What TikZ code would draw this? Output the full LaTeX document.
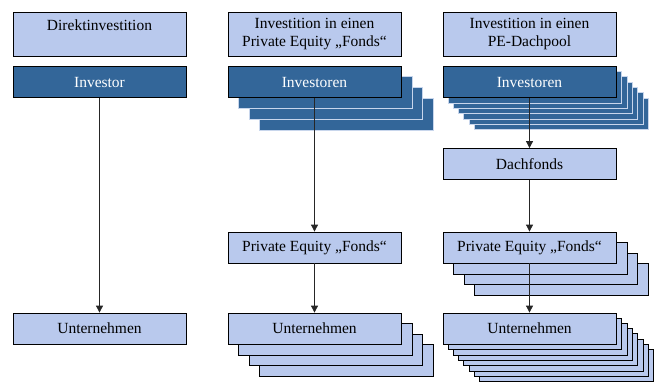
\documentclass[tikz,border=0pt]{standalone}
\usepackage{fontspec}
\setmainfont{Liberation Serif}
\usepackage{xcolor}
\definecolor{boxblue}{HTML}{B9C9ED}
\definecolor{darkblue}{HTML}{336699}
\definecolor{edgeblue}{HTML}{C8D6EC}
\usepackage{tikz}
\usetikzlibrary{arrows.meta, backgrounds}

\tikzset{
	kopf/.style={draw, line width=0.8pt, fill=boxblue, minimum width=173pt, minimum height=44pt, align=center, inner sep=1pt, font=\fontsize{15.5}{18}\selectfont},
	hell/.style={draw, line width=0.8pt, fill=boxblue, minimum width=173pt, minimum height=31pt, inner sep=1pt, font=\fontsize{15.5}{18}\selectfont},
	dunkel/.style={hell, fill=darkblue, text=white},
	pfeil/.style={-{Triangle[length=7pt, width=7pt]}, line width=0.8pt, black!85}
}

\begin{document}
\begin{tikzpicture}[x=1pt, y=-1pt]
	\useasboundingbox (0, 0) rectangle (660, 381);
	
	\node[kopf] (hdirekt) at (99.5, 34) {Direktinvestition\\\mbox{}};
	\node[kopf] (hfonds) at (314.5, 34) {Investition in einen\\Private Equity „Fonds“};
	\node[kopf] (hdach) at (529.5, 34) {Investition in einen\\PE-Dachpool};
	
	\node[dunkel] (inv1) at (99.5, 82) {Investor};
	\node[dunkel] (inv2) at (314.5, 82) {Investoren};
	\node[dunkel] (inv3) at (529.5, 82) {Investoren};
	
	\node[hell] (dach) at (529.5, 164) {Dachfonds};
	\node[hell] (pe2) at (314.5, 247.5) {Private Equity „Fonds“};
	\node[hell] (pe3) at (529.5, 247.5) {Private Equity „Fonds“};
	
	\node[hell] (unt1) at (99.5, 328.5) {Unternehmen};
	\node[hell] (unt2) at (314.5, 328.5) {Unternehmen};
	\node[hell] (unt3) at (529.5, 328.5) {Unternehmen};
	
	\begin{scope}[on background layer]
		\foreach \i in {3,2,1} {
			\draw[fill=darkblue, draw=edgeblue, line width=0.8pt] ([shift={(\i*10.7, \i*10.7)}]inv2.south west) rectangle ([shift={(\i*10.7, \i*10.7)}]inv2.north east);
			\draw[fill=boxblue, line width=0.8pt] ([shift={(\i*10.7, \i*10.7)}]pe3.south west) rectangle ([shift={(\i*10.7, \i*10.7)}]pe3.north east);
			\draw[fill=boxblue, line width=0.8pt] ([shift={(\i*10.7, \i*10.7)}]unt2.south west) rectangle ([shift={(\i*10.7, \i*10.7)}]unt2.north east);
		}
		\foreach \i in {6,5,...,1} {
			\draw[fill=darkblue, draw=edgeblue, line width=0.8pt] ([shift={(\i*5.3, \i*5.3)}]inv3.south west) rectangle ([shift={(\i*5.3, \i*5.3)}]inv3.north east);
		}
		\foreach \i in {7,6,...,1} {
			\draw[fill=boxblue, line width=0.8pt] ([shift={(\i*5.3, \i*5.3)}]unt3.south west) rectangle ([shift={(\i*5.3, \i*5.3)}]unt3.north east);
		}
	\end{scope}
	
	\draw[pfeil] (inv1) -- (unt1);
	\draw[pfeil] (inv2) -- (pe2);
	\draw[pfeil] (pe2) -- (unt2);
	\draw[pfeil] (inv3) -- (dach);
	\draw[pfeil] (dach) -- (pe3);
	\draw[pfeil] (pe3) -- (unt3);
\end{tikzpicture}
\end{document}
